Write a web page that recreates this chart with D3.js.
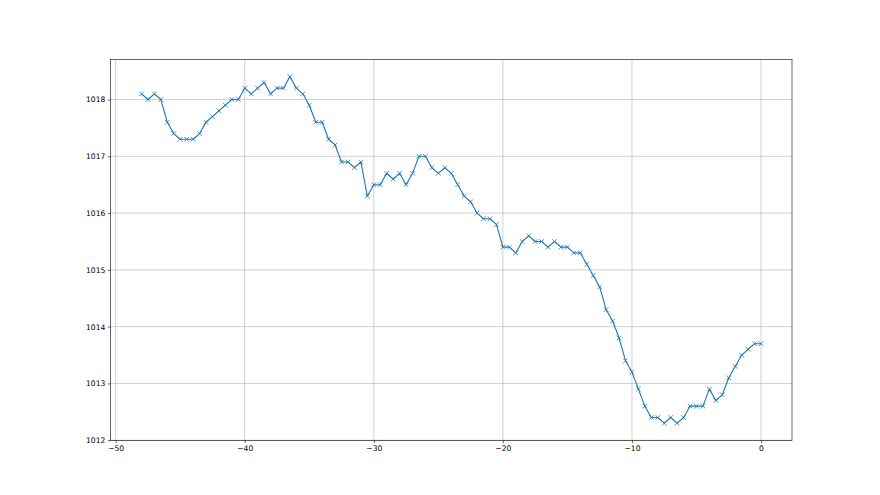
<!DOCTYPE html>
<meta charset="utf-8">
<style>
body { margin: 0; background: #fff; }
.tick text { font-family: "DejaVu Sans", sans-serif; font-size: 7.6px; fill: #000; }
.grid line { stroke: #b0b0b0; stroke-width: 0.6px; }
</style>
<svg width="880" height="495"></svg>
<script src="https://d3js.org/d3.v7.min.js"></script>
<script>

// time offsets (step 0.5) and pressure readings
var times = d3.range(-48, 0.001, 0.5);
var pressure = [
  1018.1, 1018.0, 1018.1, 1018.0, 1017.6, 1017.4, 1017.3, 1017.3, 1017.3, 1017.4,
  1017.6, 1017.7, 1017.8, 1017.9, 1018.0, 1018.0, 1018.2, 1018.1, 1018.2, 1018.3,
  1018.1, 1018.2, 1018.2, 1018.4, 1018.2, 1018.1, 1017.9, 1017.6, 1017.6, 1017.3,
  1017.2, 1016.9, 1016.9, 1016.8, 1016.9, 1016.3, 1016.5, 1016.5, 1016.7, 1016.6,
  1016.7, 1016.5, 1016.7, 1017.0, 1017.0, 1016.8, 1016.7, 1016.8, 1016.7, 1016.5,
  1016.3, 1016.2, 1016.0, 1015.9, 1015.9, 1015.8, 1015.4, 1015.4, 1015.3, 1015.5,
  1015.6, 1015.5, 1015.5, 1015.4, 1015.5, 1015.4, 1015.4, 1015.3, 1015.3, 1015.1,
  1014.9, 1014.7, 1014.3, 1014.1, 1013.8, 1013.4, 1013.2, 1012.9, 1012.6, 1012.4,
  1012.4, 1012.3, 1012.4, 1012.3, 1012.4, 1012.6, 1012.6, 1012.6, 1012.9, 1012.7,
  1012.8, 1013.1, 1013.3, 1013.5, 1013.6, 1013.7, 1013.7
];
var xTicks = [-50, -40, -30, -20, -10, 0];
var yTicks = [1012, 1013, 1014, 1015, 1016, 1017, 1018];

var data = times.map(function(t, i) { return {t: t, p: pressure[i]}; });

var svg = d3.select("svg");
var plotL = 110.5, plotR = 792, plotT = 59.5, plotB = 440.5;

// matplotlib-like 5% margins
var xMin = d3.min(times), xMax = d3.max(times);
var yMin = d3.min(pressure), yMax = d3.max(pressure);
var xPad = (xMax - xMin) * 0.05, yPad = (yMax - yMin) * 0.05;

var x = d3.scaleLinear().domain([xMin - xPad, xMax + xPad]).range([plotL, plotR]);
var y = d3.scaleLinear().domain([yMin - yPad, yMax + yPad]).range([plotB, plotT]);

var fmtX = function(d) { return String(d).replace("-", "\u2212"); };

// grid
svg.append("g").attr("class", "grid")
  .selectAll("line").data(xTicks).enter().append("line")
    .attr("x1", function(d) { return x(d); }).attr("x2", function(d) { return x(d); })
    .attr("y1", plotT).attr("y2", plotB);
svg.append("g").attr("class", "grid")
  .selectAll("line").data(yTicks).enter().append("line")
    .attr("y1", function(d) { return y(d); }).attr("y2", function(d) { return y(d); })
    .attr("x1", plotL).attr("x2", plotR);

// line
svg.append("path")
  .datum(data)
  .attr("fill", "none")
  .attr("stroke", "#1f77b4")
  .attr("stroke-width", 1.1)
  .attr("stroke-linejoin", "round")
  .attr("d", d3.line().x(function(d) { return x(d.t); }).y(function(d) { return y(d.p); }));

// x markers
var m = 2.3;
svg.append("g").selectAll("path").data(data).enter().append("path")
  .attr("fill", "none")
  .attr("stroke", "#1f77b4")
  .attr("stroke-width", 0.8)
  .attr("d", function(d) {
    var cx = x(d.t), cy = y(d.p);
    return "M" + (cx - m) + "," + (cy - m) + "L" + (cx + m) + "," + (cy + m) +
           "M" + (cx - m) + "," + (cy + m) + "L" + (cx + m) + "," + (cy - m);
  });

// frame
svg.append("rect")
  .attr("x", plotL).attr("y", plotT)
  .attr("width", plotR - plotL).attr("height", plotB - plotT)
  .attr("fill", "none").attr("stroke", "#000").attr("stroke-width", 0.6);

// axes
svg.append("g")
  .attr("transform", "translate(0," + plotB + ")")
  .call(d3.axisBottom(x).tickValues(xTicks).tickSize(2.7).tickPadding(2.5).tickFormat(fmtX))
  .call(function(g) { g.select(".domain").remove(); g.selectAll(".tick line").attr("stroke-width", 0.6); });

svg.append("g")
  .attr("transform", "translate(" + plotL + ",0)")
  .call(d3.axisLeft(y).tickValues(yTicks).tickSize(2.7).tickPadding(2.5).tickFormat(d3.format("d")))
  .call(function(g) { g.select(".domain").remove(); g.selectAll(".tick line").attr("stroke-width", 0.6); });

</script>
